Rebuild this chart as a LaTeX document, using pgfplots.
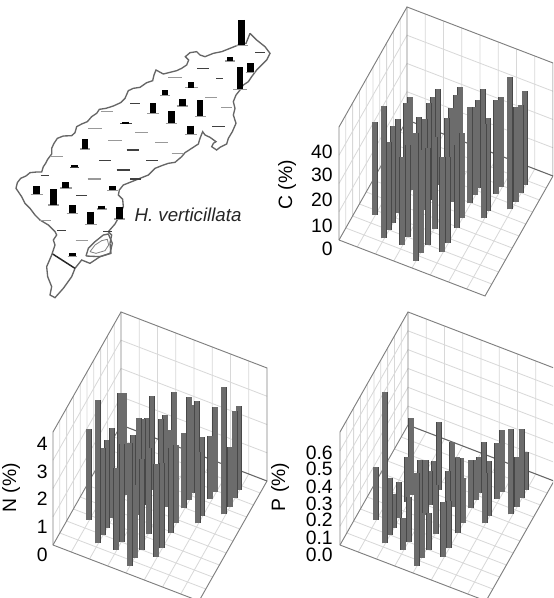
\documentclass[border=0pt]{standalone}
\usepackage{fontspec}
\setmainfont{Liberation Sans}
\usepackage{pgfplots}
\pgfplotsset{compat=1.18}
\definecolor{gridc}{HTML}{D8D8D8}
\definecolor{framec}{HTML}{808080}
\definecolor{barin}{HTML}{6C6C6C}
\definecolor{barout}{HTML}{484848}
\newcommand\B[3]{%
  \addplot3[barout,line width=4.5pt] coordinates {(#1,#2,0)(#1,#2,#3)};
  \addplot3[barin,line width=3.5pt] coordinates {(#1,#2,0)(#1,#2,#3)};
}
\newcommand\M[3]{\addplot[black,line width=5pt] coordinates {(#1,#2)(#1,#3)};}
% #1 top of the z axis, #2 list of z grid values
\newcommand\Frame[2]{%
  \pgfplotsinvokeforeach{0.125,0.25,0.375,0.5,0.625,0.75,0.875}{%
    \addplot3[gridc,line width=.6pt] coordinates {(##1,1,#1)(##1,1,0)(##1,0,0)};
  }
  \pgfplotsinvokeforeach{0.1,0.2,0.3,0.4,0.5,0.6,0.7,0.8,0.9}{%
    \addplot3[gridc,line width=.6pt] coordinates {(0,##1,#1)(0,##1,0)(1,##1,0)};
  }
  \pgfplotsinvokeforeach{#2}{%
    \addplot3[gridc,line width=.6pt] coordinates {(0,0,##1)(0,1,##1)(1,1,##1)};
  }
  \addplot3[framec,line width=.7pt] coordinates {(0,0,0)(0,0,#1)(0,1,#1)(1,1,#1)(1,1,0)};
  \addplot3[framec,line width=.7pt] coordinates {(0,0,0)(1,0,0)(1,1,0)};
  \addplot3[framec,line width=.7pt] coordinates {(0,0,0)(0,1,0)(0,1,#1)};
  \addplot3[black!60,line width=.8pt] coordinates {(0,1,0)(1,1,0)};
}
\pgfplotsset{panel/.style={hide axis,clip=false,anchor=origin,
  x={(109.5pt,-42pt)},y={(51pt,90pt)},xmin=0,xmax=1,ymin=0,ymax=1,zmin=0}}
\begin{document}
\begin{tikzpicture}[every node/.style={font=\fontsize{14.5}{16}\selectfont,inner sep=0pt}]
\useasboundingbox (0pt,-448.5pt) rectangle (414.75pt,0pt);
\clip (0pt,-448.5pt) rectangle (414.75pt,0pt);
\fill[white] (0pt,-448.5pt) rectangle (414.75pt,0pt);

% ---- map, in a 840 x 900 grid
\begin{axis}[at={(0pt,0pt)},anchor=north west,hide axis,clip=false,unbounded coords=jump,
  x=0.25pt,y=0.25pt,y dir=reverse,xmin=0,xmax=840,ymin=0,ymax=900]
\addplot[color=black!60,line width=1pt] coordinates {
(750,100)(770,120)(795,140)(810,160)(800,180)(785,195)(770,210)(755,230)(745,245)(730,255)(720,270)(708,285)(700,305)(705,325)(700,345)(708,370)(697,395)(685,415)(680,432)(660,442)(650,450)(635,440)(640,430)(648,425)(630,412)(615,405)(608,395)(600,415)(595,432)(575,445)(555,458)(545,470)(525,487)(505,490)(485,497)(465,505)(445,525)(420,535)(395,545)(370,555)(358,570)(355,585)(368,598)(370,620)(360,645)(345,672)(325,695)(335,705)(330,730)(333,760)(300,770)(270,790)(245,780)(225,805)(215,830)(190,865)(165,893)(150,885)(155,860)(143,830)(140,800)(155,765)(165,735)(160,720)(170,705)(165,695)(145,675)(120,660)(105,645)(90,625)(75,610)(65,590)(48,565)(52,548)(62,535)(78,528)(90,518)(110,516)(125,516)(130,500)(137,490)(143,478)(155,462)(155,445)(162,430)(172,415)(190,408)(215,407)(225,398)(230,380)(245,372)(262,365)(275,350)(290,340)(298,328)(318,325)(340,318)(362,308)(375,295)(385,272)(400,265)(420,262)(440,248)(458,242)(462,225)(468,210)(490,222)(510,217)(530,212)(545,205)(560,195)(566,180)(556,170)(570,158)(590,155)(600,165)(615,170)(640,160)(665,155)(690,145)(715,135)(738,130)(750,100)};
\addplot[color=black!60,line width=1pt] coordinates {(258,768)(265,745)(285,725)(310,705)(325,702)(337,730)(330,760)(300,770)(258,768)};
\addplot[color=black!50,line width=.6pt] coordinates {(270,755)(285,735)(305,722)(322,718)(326,735)(315,752)(288,760)(270,755)};
\addplot[color=black!85,line width=1.1pt] coordinates {(158,762)(225,805)};
% zero sites and bases: dark
\addplot[color=black!75,line width=.9pt] coordinates {
(765,158)(795,158)(0,nan)(592,205)(628,205)(0,nan)(648,236)(668,236)(0,nan)(390,310)(420,310)(0,nan)(636,380)(674,380)(0,nan)(380,450)(416,450)(0,nan)(297,482)(333,482)(0,nan)(438,481)(473,481)(0,nan)(350,510)(390,510)(0,nan)(122,527)(148,527)(0,nan)(228,587)(262,587)(0,nan)(390,537)(422,537)(0,nan)(172,691)(198,691)(0,nan)(310,695)(335,695)(0,nan)(360,371)(395,371)(0,nan)(210,502)(238,502)};
% zero sites and bases: light
\addplot[color=black!40,line width=.8pt] coordinates {
(505,233)(545,233)(0,nan)(615,293)(650,293)(0,nan)(664,323)(695,323)(0,nan)(303,335)(338,335)(0,nan)(265,385)(305,385)(0,nan)(405,397)(445,397)(0,nan)(325,422)(365,422)(0,nan)(465,427)(505,427)(0,nan)(150,470)(190,470)(0,nan)(515,460)(552,460)(0,nan)(263,537)(303,537)(0,nan)(118,662)(152,662)(0,nan)(227,722)(263,722)(0,nan)(705,137)(745,137)(0,nan)(675,183)(705,183)(0,nan)(738,217)(768,217)(0,nan)(700,268)(740,268)(0,nan)(555,263)(595,263)(0,nan)(480,286)(510,286)(0,nan)(530,318)(565,318)(0,nan)(585,349)(618,349)(0,nan)(442,341)(476,341)(0,nan)(497,371)(532,371)(0,nan)(555,403)(590,403)(0,nan)(240,447)(270,447)(0,nan)(180,564)(215,564)(0,nan)(92,584)(128,584)(0,nan)(145,615)(178,615)(0,nan)(200,641)(235,641)(0,nan)(255,673)(290,673)(0,nan)(290,627)(320,627)(0,nan)(342,657)(376,657)(0,nan)(322,572)(355,572)(0,nan)(203,770)(232,770)};
% bars
\M{725}{60}{135}\M{690}{172}{182}\M{752}{190}{215}\M{720}{202}{268}\M{573}{247}{263}\M{495}{270}{285}\M{547}{296}{317}\M{600}{300}{348}\M{459}{310}{340}\M{514}{333}{370}\M{571}{377}{402}\M{377}{365}{371}\M{255}{418}{447}\M{224}{495}{502}\M{197}{546}{563}\M{110}{558}{583}\M{161}{568}{614}\M{217}{616}{640}\M{272}{635}{672}\M{305}{617}{627}\M{359}{620}{656}\M{338}{558}{571}\M{217}{760}{769}
\node[anchor=west,font=\fontsize{14}{16}\selectfont\itshape,text=black!85] at (axis cs:403,645) {H. verticillata};
\end{axis}

% ---- C
\begin{axis}[panel,at={(254.25pt,-180pt)},z={(0pt,2.119pt)},zmax=40]
\Frame{40}{10,20,30}
\B{.748}{.904}{34}\B{.614}{.800}{31.5}\B{.382}{.636}{33.9}\B{.507}{.695}{34.6}\B{.869}{.864}{33.4}\B{.743}{.791}{31.9}\B{.617}{.719}{31.3}\B{.242}{.530}{33}
\B{.380}{.566}{34}\B{.511}{.628}{34.8}\B{.873}{.796}{31.3}\B{.739}{.728}{33.3}\B{.624}{.666}{31}\B{.241}{.473}{33.3}\B{.379}{.510}{34.2}\B{.510}{.557}{33}\B{.876}{.728}{33.4}
\B{.618}{.594}{34}\B{.862}{.658}{32.8}\B{.386}{.430}{32.1}\B{.745}{.592}{32.7}\B{.517}{.478}{33}\B{.247}{.337}{33.3}\B{.365}{.393}{34}\B{.166}{.300}{37.8}\B{.121}{.265}{33}
\B{.625}{.472}{30.1}\B{.745}{.528}{33.4}\B{.249}{.260}{34.2}\B{.394}{.281}{33.6}\B{.627}{.390}{29.5}\B{.504}{.324}{32.8}\B{.249}{.200}{31.3}\B{.380}{.199}{32.7}\B{.246}{.129}{33}
\B{.624}{.263}{30.7}\B{.372}{.132}{31.3}\B{.517}{.199}{34.2}\B{.619}{.191}{33.6}\B{.504}{.129}{36.3}\B{.497}{.060}{34.5}
\end{axis}
\node[anchor=east] at (249.75pt,-114pt) {40};
\node[anchor=east] at (249.75pt,-131.25pt) {30};
\node[anchor=east] at (249.75pt,-150pt) {20};
\node[anchor=east] at (249.75pt,-169.5pt) {10};
\node[anchor=east] at (249.75pt,-186.75pt) {0};
\node[rotate=90] at (215.25pt,-138.75pt) {C (\%)};

% ---- N
\begin{axis}[panel,at={(39.75pt,-408.75pt)},z={(0pt,21.19pt)},zmax=4]
\Frame{4}{1,2,3}
\B{.748}{.904}{3.24}\B{.614}{.800}{2.93}\B{.382}{.636}{3.33}\B{.507}{.695}{3.48}\B{.869}{.864}{2.97}\B{.743}{.791}{2.99}\B{.617}{.719}{3.13}\B{.242}{.530}{3.62}
\B{.380}{.566}{2.86}\B{.511}{.628}{2.42}\B{.873}{.796}{3.10}\B{.739}{.728}{2.23}\B{.624}{.666}{3.63}\B{.241}{.473}{3.86}\B{.379}{.510}{3.04}\B{.510}{.557}{3.24}\B{.876}{.728}{2.10}
\B{.618}{.594}{2.65}\B{.862}{.658}{2.63}\B{.386}{.430}{3.42}\B{.745}{.592}{2.80}\B{.517}{.478}{3.45}\B{.247}{.337}{3.19}\B{.365}{.393}{2.95}\B{.166}{.300}{4.17}\B{.121}{.265}{3.21}
\B{.625}{.472}{2.77}\B{.745}{.528}{2.54}\B{.249}{.260}{3.10}\B{.394}{.281}{3.19}\B{.627}{.390}{3.01}\B{.504}{.324}{3.04}\B{.249}{.200}{3.07}\B{.380}{.199}{3.50}\B{.246}{.129}{2.83}
\B{.624}{.263}{3.01}\B{.372}{.132}{2.89}\B{.517}{.199}{3.24}\B{.619}{.191}{3.30}\B{.504}{.129}{2.57}\B{.497}{.060}{2.38}
\end{axis}
\node[anchor=east] at (36pt,-333pt) {4};
\node[anchor=east] at (36pt,-354pt) {3};
\node[anchor=east] at (36pt,-374.25pt) {2};
\node[anchor=east] at (36pt,-395.25pt) {1};
\node[anchor=east] at (36pt,-416.25pt) {0};
\node[rotate=90] at (8.25pt,-366pt) {N (\%)};

% ---- P
\begin{axis}[panel,at={(255pt,-408.75pt)},z={(0pt,141.25pt)},zmax=0.6]
\Frame{0.6}{0.1,0.2,0.3,0.4,0.5}
\B{.748}{.904}{.265}\B{.614}{.800}{.22}\B{.382}{.636}{.36}\B{.507}{.695}{.17}\B{.869}{.864}{.20}\B{.743}{.791}{.33}\B{.617}{.719}{.195}\B{.242}{.530}{.41}
\B{.380}{.566}{.20}\B{.511}{.628}{.22}\B{.873}{.796}{.37}\B{.739}{.728}{.295}\B{.624}{.666}{.21}\B{.241}{.473}{.24}\B{.379}{.510}{.18}\B{.510}{.557}{.345}\B{.876}{.728}{.265}
\B{.618}{.594}{.257}\B{.862}{.658}{.31}\B{.386}{.430}{.29}\B{.745}{.592}{.29}\B{.517}{.478}{.24}\B{.247}{.337}{.195}\B{.365}{.393}{.31}\B{.166}{.300}{.673}\B{.121}{.265}{.283}
\B{.625}{.472}{.24}\B{.745}{.528}{.265}\B{.249}{.260}{.18}\B{.394}{.281}{.32}\B{.627}{.390}{.40}\B{.504}{.324}{.26}\B{.249}{.200}{.30}\B{.380}{.199}{.24}\B{.246}{.129}{.354}
\B{.624}{.263}{.25}\B{.372}{.132}{.168}\B{.517}{.199}{.195}\B{.619}{.191}{.29}\B{.504}{.129}{.235}\B{.497}{.060}{.26}
\end{axis}
\node[anchor=east] at (249.75pt,-339.75pt) {0.6};
\node[anchor=east] at (249.75pt,-351.75pt) {0.5};
\node[anchor=east] at (249.75pt,-365.25pt) {0.4};
\node[anchor=east] at (249.75pt,-378pt) {0.3};
\node[anchor=east] at (249.75pt,-390pt) {0.2};
\node[anchor=east] at (249.75pt,-403.5pt) {0.1};
\node[anchor=east] at (249.75pt,-416.25pt) {0.0};
\node[rotate=90] at (210pt,-365.25pt) {P (\%)};
\end{tikzpicture}
\end{document}
